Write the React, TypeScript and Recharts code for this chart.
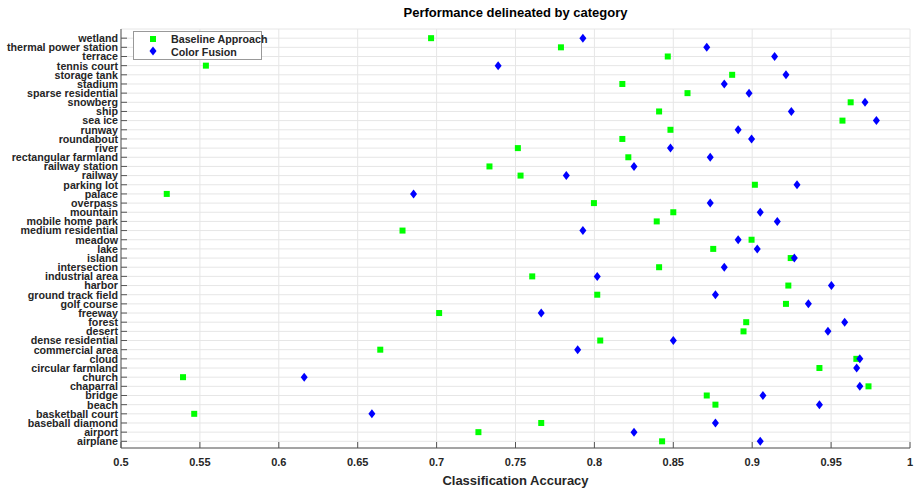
import { ScatterChart, Scatter, XAxis, YAxis, CartesianGrid } from 'recharts'

const categories = [
  'wetland', 'thermal power station', 'terrace', 'tennis court', 'storage tank', 'stadium',
  'sparse residential', 'snowberg', 'ship', 'sea ice', 'runway', 'roundabout', 'river',
  'rectangular farmland', 'railway station', 'railway', 'parking lot', 'palace', 'overpass',
  'mountain', 'mobile home park', 'medium residential', 'meadow', 'lake', 'island',
  'intersection', 'industrial area', 'harbor', 'ground track field', 'golf course', 'freeway',
  'forest', 'desert', 'dense residential', 'commercial area', 'cloud', 'circular farmland',
  'church', 'chaparral', 'bridge', 'beach', 'basketball court', 'baseball diamond', 'airport',
  'airplane',
]

const baseline = [
  0.6965, 0.7788, 0.8465, 0.5538, 0.8873, 0.8177, 0.859, 0.9624, 0.841, 0.9572, 0.8482, 0.8177,
  0.7515, 0.8215, 0.7335, 0.7532, 0.9017, 0.529, 0.7997, 0.85, 0.8395, 0.6784, 0.8996, 0.8753,
  0.9244, 0.841, 0.7606, 0.9229, 0.8018, 0.9214, 0.7016, 0.8962, 0.8945, 0.8037, 0.6643, 0.966,
  0.9426, 0.5393, 0.9737, 0.8712, 0.8767, 0.5464, 0.7663, 0.7265, 0.8429,
]

const fusion = [
  0.7927, 0.8712, 0.9142, 0.739, 0.9214, 0.8823, 0.898, 0.9715, 0.9248, 0.9787, 0.8911, 0.8996,
  0.8482, 0.8734, 0.8251, 0.7822, 0.9284, 0.6854, 0.8734, 0.9051, 0.9159, 0.7927, 0.8911, 0.9032,
  0.9267, 0.8823, 0.8018, 0.9502, 0.8767, 0.9356, 0.7663, 0.9586, 0.948, 0.85, 0.7894, 0.9682,
  0.9662, 0.6161, 0.9682, 0.9068, 0.9426, 0.659, 0.8767, 0.8251, 0.9051,
]

const xTicks = [0.5, 0.55, 0.6, 0.65, 0.7, 0.75, 0.8, 0.85, 0.9, 0.95, 1]

const n = categories.length
const yTicks = categories.map((_, i) => n - i)
const baselineData = baseline.map((v, i) => ({ x: v, y: n - i }))
const fusionData = fusion.map((v, i) => ({ x: v, y: n - i }))

const font = '"Liberation Sans", Arial, sans-serif'
const GREEN = '#00ff00'
const BLUE = '#0000ff'

const Square = (props: any) => (
  <rect x={props.cx - 3} y={props.cy - 3} width={6} height={6} fill={GREEN} />
)

const Diamond = (props: any) => (
  <polygon
    points={`${props.cx},${props.cy - 4.5} ${props.cx + 3.5},${props.cy} ${props.cx},${props.cy + 4.5} ${props.cx - 3.5},${props.cy}`}
    fill={BLUE}
  />
)

// plain text tick so long names don't wrap
const CategoryTick = (props: any) => (
  <text
    x={props.x}
    y={props.y}
    dy="0.36em"
    textAnchor="end"
    fill="#262626"
    fontSize={10.7}
    fontWeight="bold"
    fontFamily={font}
  >
    {categories[n - props.payload.value]}
  </text>
)

const LegendBox = () => (
  <div style={{ position: 'absolute', left: 133, top: 31, width: 127, height: 27, background: '#fff', border: '1px solid #999', fontFamily: font, fontWeight: 'bold', fontSize: 10.7, color: '#262626' }}>
    <svg width={20} height={28} style={{ position: 'absolute', left: 9, top: 0 }}>
      <rect x={7} y={4} width={6} height={6} fill={GREEN} />
      <polygon points="10,14.5 13.5,19 10,23.5 6.5,19" fill={BLUE} />
    </svg>
    <div style={{ position: 'absolute', left: 37, top: 1, whiteSpace: 'nowrap' }}>Baseline Approach</div>
    <div style={{ position: 'absolute', left: 37, top: 14, whiteSpace: 'nowrap' }}>Color Fusion</div>
  </div>
)

export default function App() {
  return (
    <div style={{ position: 'absolute', left: 0, top: 0, width: 916, height: 489, background: '#fff' }}>
      <div style={{ position: 'absolute', top: 5, left: 121, width: 789, textAlign: 'center', fontFamily: font, fontWeight: 'bold', fontSize: 13, color: '#000' }}>
        Performance delineated by category
      </div>
      <ScatterChart width={916} height={489} margin={{ top: 29, right: 6, bottom: 0, left: 0 }}>
        <CartesianGrid stroke="#e6e6e6" strokeWidth={1} />
        <XAxis
          type="number"
          dataKey="x"
          domain={[0.5, 1]}
          ticks={xTicks}
          interval={0}
          allowDataOverflow
          height={41}
          tickSize={-6}
          tickMargin={16}
          tickLine={{ stroke: '#555' }}
          axisLine={{ stroke: '#555' }}
          tick={{ fill: '#262626', fontSize: 11, fontWeight: 'bold', fontFamily: font }}
          label={{ value: 'Classification Accuracy', position: 'insideBottom', offset: 4, fill: '#262626', fontSize: 13, fontWeight: 'bold', fontFamily: font }}
        />
        <XAxis xAxisId="top" orientation="top" type="number" domain={[0.5, 1]} height={0} tick={false} tickLine={false} axisLine={{ stroke: '#555' }} />
        <YAxis
          type="number"
          dataKey="y"
          domain={[0.27, 46]}
          ticks={yTicks}
          interval={0}
          allowDataOverflow
          width={121}
          tickSize={-6}
          tickMargin={9}
          tickLine={{ stroke: '#555' }}
          axisLine={{ stroke: '#555' }}
          tick={<CategoryTick />}
        />
        <YAxis yAxisId="right" orientation="right" type="number" domain={[0.27, 46]} width={0} tick={false} tickLine={false} axisLine={{ stroke: '#555' }} />
        <Scatter name="Baseline Approach" data={baselineData} shape={<Square />} fill={GREEN} isAnimationActive={false} />
        <Scatter name="Color Fusion" data={fusionData} shape={<Diamond />} fill={BLUE} isAnimationActive={false} />
      </ScatterChart>
      <LegendBox />
    </div>
  )
}
